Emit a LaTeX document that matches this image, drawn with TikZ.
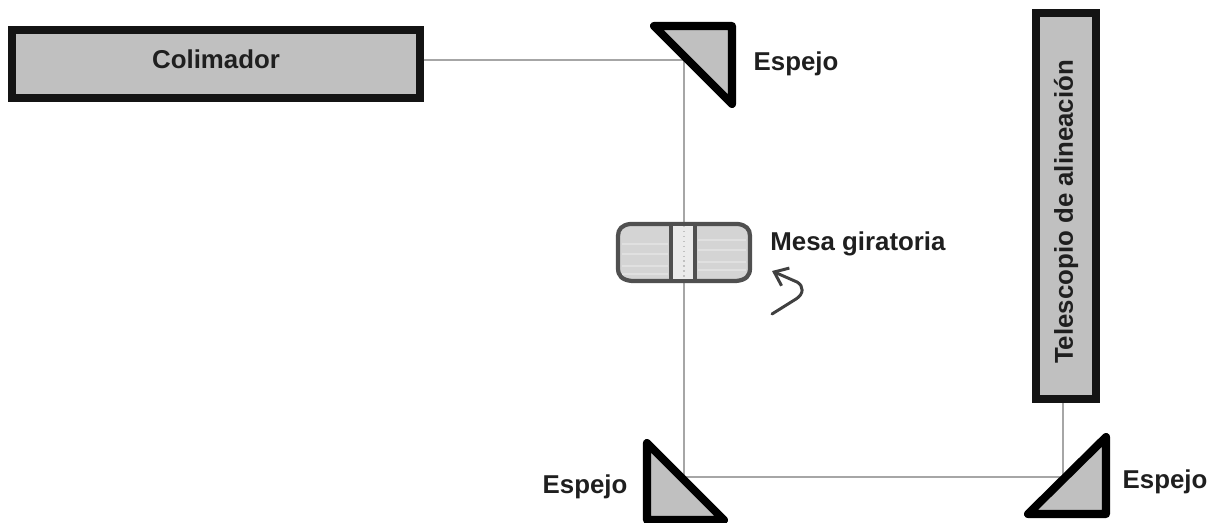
\documentclass[tikz,border=0pt]{standalone}
\usepackage{fontspec}
\setmainfont{Liberation Sans}
\usetikzlibrary{arrows.meta}
\definecolor{relleno}{HTML}{C0C0C0}
\definecolor{rayo}{HTML}{A6A6A6}
\definecolor{mesaborde}{HTML}{505050}
\tikzset{
	etiqueta/.style={font=\fontsize{14.7}{17}\bfseries\selectfont, text=black!88, inner sep=0pt},
	caja/.style={draw=black!92, fill=relleno, line width=4.4pt, inner sep=0pt, etiqueta},
	prisma/.style={draw=black, fill=relleno, line width=4.6pt, line join=round},
	haz/.style={draw=rayo, line width=1.2pt},
}
\begin{document}
\begin{tikzpicture}[x=0.02cm,y=-0.02cm]
	\useasboundingbox (0,0) rectangle (1217,522);
	\node[caja, minimum width=232pt, minimum height=38.5pt, text height=11pt, text depth=5.5pt] (colimador) at (216,64) {Colimador};
	\node[caja, rotate=90, minimum width=220pt, minimum height=34.5pt] (telescopio) at (1066,206) {Telescopio de alineación\hspace*{6.8pt}};
	\coordinate (esq1) at (684,60);
	\coordinate (esq2) at (684,477);
	\coordinate (esq3) at (1063,477);
	\draw[haz] (colimador.east |- esq1) -- (esq1) -- (esq2) -- (esq3) -- (telescopio.west -| esq3);
	\draw[prisma] (654,26) -- (732,26) -- (732,104) -- cycle;
	\draw[prisma] (647,443) -- (724,520) -- (647,520) -- cycle;
	\draw[prisma] (1106,437) -- (1106,514) -- (1028,514) -- cycle;
	\draw[draw=mesaborde, fill=black!17, line width=2.4pt, line join=round] (630,224) -- (738,224) .. controls (746,225) and (750,229) .. (750,236) -- (750,268) .. controls (750,276) and (746,280) .. (736,281) -- (632,281) .. controls (622,280) and (618,276) .. (618,268) -- (618,236) .. controls (618,229) and (622,225) .. (630,224) -- cycle;
	\foreach \y in {240,250,262,270} {
		\draw[white!88!black, line width=1pt] (698,\y) -- (746,\y);
		\draw[white!88!black, line width=.7pt] (622,\y+4) -- (668,\y+4);
	}
	\draw[draw=mesaborde, fill=black!8, line width=2.2pt] (671,224) rectangle (695,281);
	\draw[rayo!70!white, line width=.8pt, dotted] (684,226) -- (684,279);
	\node[etiqueta] (espejo1) at (796,64) {Espejo};
	\node[etiqueta] (espejo2) at (585,487) {Espejo};
	\node[etiqueta] (espejo3) at (1165,482) {Espejo};
	\node[etiqueta] (mesa) at (858,244) {Mesa giratoria};
	\coordinate (giro1) at (772,314);
	\coordinate (giro2) at (772,271);
	\draw[-{Straight Barb[length=7pt,width=11pt]}, draw=black!75, line width=1.7pt, line cap=round] (giro1) -- (796,299) .. controls (804,294) and (804,286) .. (797,282) -- (giro2);
\end{tikzpicture}
\end{document}
